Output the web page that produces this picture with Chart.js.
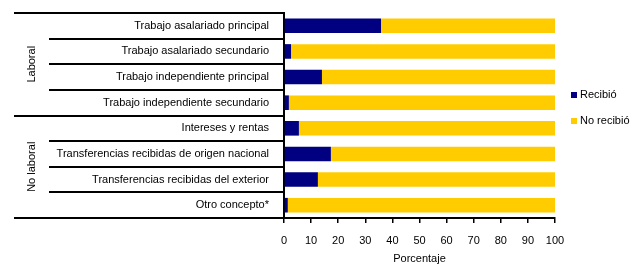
<!DOCTYPE html>
<html>
<head>
<meta charset="utf-8">
<script src="https://cdn.jsdelivr.net/npm/chart.js@4/dist/chart.umd.min.js"></script>
<style>
  html, body { margin: 0; padding: 0; background: #fff; }
  #chart { display: block; }
</style>
</head>
<body>
<canvas id="chart" width="640" height="265"></canvas>
<script>
// ── Data ──
const categories = [
    'Trabajo asalariado principal',
    'Trabajo asalariado secundario',
    'Trabajo independiente principal',
    'Trabajo independiente secundario',
    'Intereses y rentas',
    'Transferencias recibidas de origen nacional',
    'Transferencias recibidas del exterior',
    'Otro concepto*'
];
const recibio   = [35.8, 2.6, 14.0, 1.8, 5.5, 17.3, 12.5, 1.4];
const noRecibio = [64.2, 97.4, 86.0, 98.2, 94.5, 82.7, 87.5, 98.6];
const groupNames = ['Laboral', 'No laboral'];
const groupSizes = [4, 4];
const seriesNames = ['Recibió', 'No recibió'];
const xTicks = [0, 10, 20, 30, 40, 50, 60, 70, 80, 90, 100];
const xTitle = 'Porcentaje';

// ── Style ──
const FONT = "'Liberation Sans', Arial, sans-serif";
const FSIZE = 11;
const NAVY = '#000080';
const GOLD = '#ffcc00';

// ── Separator lines + group labels ──
const groupPlugin = {
    id: 'groups',
    afterDraw(chart) {
        const ctx = chart.ctx;
        const y = chart.scales.y;
        const left = chart.chartArea.left;
        const bounds = [0];
        groupSizes.forEach(n => bounds.push(bounds[bounds.length - 1] + n));
        ctx.save();
        ctx.strokeStyle = '#000';
        ctx.lineWidth = 2;
        for (let i = 0; i <= categories.length; i++) {
            const py = Math.round(y.getPixelForValue(i - 0.5));
            const x0 = bounds.includes(i) ? 14 : 49;
            ctx.beginPath();
            ctx.moveTo(x0, py);
            ctx.lineTo(left, py);
            ctx.stroke();
        }
        ctx.fillStyle = '#000';
        ctx.font = FSIZE + 'px ' + FONT;
        ctx.textAlign = 'center';
        ctx.textBaseline = 'middle';
        groupNames.forEach((g, k) => {
            const a = y.getPixelForValue(bounds[k] - 0.5);
            const b = y.getPixelForValue(bounds[k + 1] - 0.5);
            ctx.save();
            ctx.translate(32, (a + b) / 2);
            ctx.rotate(-Math.PI / 2);
            ctx.fillText(g, 0, 0);
            ctx.restore();
        });
        ctx.restore();
    }
};

// ── Legend ──
const legendPlugin = {
    id: 'sideLegend',
    afterDraw(chart) {
        const ctx = chart.ctx;
        ctx.save();
        ctx.font = FSIZE + 'px ' + FONT;
        ctx.textBaseline = 'middle';
        chart.data.datasets.forEach((ds, i) => {
            const cy = 95 + i * 26;
            ctx.fillStyle = ds.backgroundColor;
            ctx.fillRect(571, cy - 3, 6, 6);
            ctx.fillStyle = '#000';
            ctx.fillText(ds.label, 580, cy);
        });
        ctx.restore();
    }
};

new Chart(document.getElementById('chart'), {
    type: 'bar',
    data: {
        labels: categories,
        datasets: [
            { label: seriesNames[0], data: recibio, backgroundColor: NAVY },
            { label: seriesNames[1], data: noRecibio, backgroundColor: GOLD }
        ]
    },
    options: {
        indexAxis: 'y',
        responsive: false,
        animation: false,
        devicePixelRatio: 1,
        categoryPercentage: 1,
        barPercentage: 0.57,
        layout: { padding: { left: 0, top: 13, right: 85, bottom: 0 } },
        plugins: {
            legend: { display: false },
            tooltip: { enabled: false }
        },
        scales: {
            x: {
                stacked: true,
                min: 0,
                max: 100,
                afterFit(s) { s.height = 47; },
                afterBuildTicks(s) { s.ticks = xTicks.map(v => ({ value: v })); },
                grid: { drawOnChartArea: false, drawTicks: true, tickLength: 5, color: '#000', lineWidth: 1.5 },
                border: { display: true, color: '#000', width: 2 },
                ticks: { color: '#000', padding: 11, font: { family: FONT, size: FSIZE } },
                title: { display: true, text: xTitle, color: '#000', padding: { top: 0, bottom: -1 }, font: { family: FONT, size: FSIZE } }
            },
            y: {
                stacked: true,
                afterFit(s) { s.width = 284; s.paddingTop = 0; s.paddingBottom = 0; },
                grid: { display: false },
                border: { display: true, color: '#000', width: 2 },
                ticks: { color: '#000', padding: 7, autoSkip: false, font: { family: FONT, size: FSIZE } }
            }
        }
    },
    plugins: [groupPlugin, legendPlugin]
});
</script>
</body>
</html>
